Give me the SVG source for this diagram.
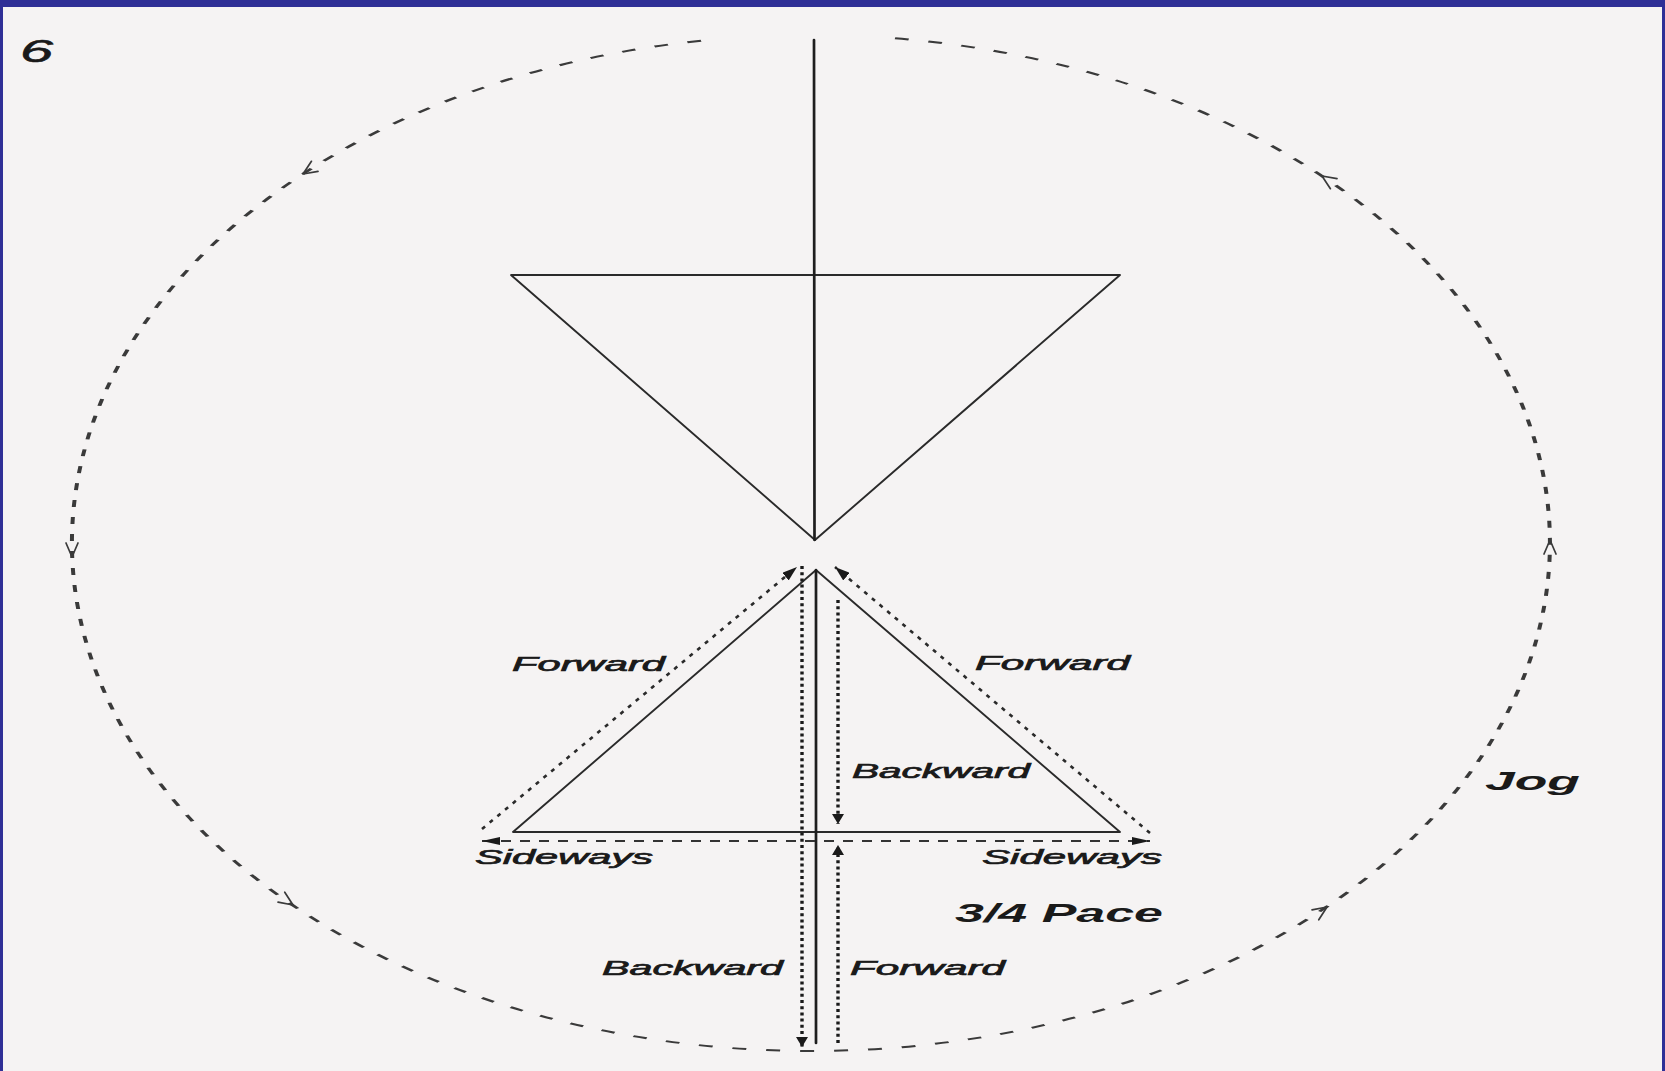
<svg xmlns="http://www.w3.org/2000/svg" width="1665" height="1071" viewBox="0 0 1665 1071">
<style>
.solid{fill:none;stroke:#1e1e1e;stroke-width:2.7;stroke-linecap:round;stroke-linejoin:round}
.thin{fill:none;stroke:#2a2a2a;stroke-width:1.9;stroke-linejoin:round}
.dotv{fill:none;stroke:#1a1a1a;stroke-width:3.4;stroke-dasharray:3 3.2}
.dotd{fill:none;stroke:#2a2a2a;stroke-width:2.6;stroke-dasharray:4 6}
.dash{fill:none;stroke:#333;stroke-width:2.2;stroke-dasharray:10 9}
.ell{fill:none;stroke:#3a3a3a;stroke-width:2;stroke-dasharray:7 10}
.chev{fill:none;stroke:#3a3a3a;stroke-width:1.7;stroke-linecap:round;stroke-linejoin:round}
.lbl{font-family:"Liberation Sans",Arial,sans-serif;font-style:italic;font-size:21px;fill:#1a1a1a;stroke:#1a1a1a;stroke-width:0.7}
.big{font-family:"Liberation Sans",Arial,sans-serif;font-style:italic;font-weight:bold;font-size:25px;fill:#1a1a1a}
</style>
<defs>
<marker id="ahv" viewBox="0 0 10 12" refX="10" refY="6" markerWidth="10" markerHeight="12" markerUnits="userSpaceOnUse" orient="auto"><path d="M0,0 L10,6 L0,12 z" fill="#1a1a1a"/></marker>
<marker id="ahh" viewBox="0 0 18 8" refX="18" refY="4" markerWidth="18" markerHeight="8" markerUnits="userSpaceOnUse" orient="auto-start-reverse"><path d="M0,0 L18,4 L0,8 z" fill="#1a1a1a"/></marker>
<marker id="ahd" viewBox="0 0 15 10" refX="15" refY="5" markerWidth="15" markerHeight="10" markerUnits="userSpaceOnUse" orient="auto"><path d="M0,0 L15,5 L0,10 z" fill="#1a1a1a"/></marker>
<path id="chevron" d="M-14,-6 L0,0 L-14,6"/>
</defs>
<rect x="0" y="0" width="1665" height="1071" fill="#2f2f96"/>
<rect x="3" y="7" width="1659" height="1064" fill="#f5f3f3"/>

<g id="number-label"><text x="20" y="62" font-family="Liberation Sans, Arial, sans-serif" font-style="italic" font-size="32" fill="#1a1a1a" stroke="#1a1a1a" stroke-width="0.6" textLength="33" lengthAdjust="spacingAndGlyphs">6</text></g>

<g id="jog-circle">
<path class="ell" transform="translate(811,543) scale(2,1)" d="M42,-504.7 A369.5 508 0 1 1 -48,-503.7"/>
<use href="#chevron" class="chev" transform="translate(303,174) rotate(146.9)"/>
<use href="#chevron" class="chev" transform="translate(72,557) rotate(90)"/>
<use href="#chevron" class="chev" transform="translate(293,905) rotate(34)"/>
<use href="#chevron" class="chev" transform="translate(1327,907) rotate(-34.1)"/>
<use href="#chevron" class="chev" transform="translate(1550,540) rotate(-90)"/>
<use href="#chevron" class="chev" transform="translate(1322,176) rotate(-146.7)"/>
</g>

<g id="top-triangle">
<path class="thin" d="M815,540 L511,275 L1120,275 Z"/>
<line class="solid" x1="814" y1="40" x2="814.5" y2="540"/>
</g>

<g id="bottom-triangle">
<path class="thin" d="M816,570 L513,832 L1120,832 Z"/>
<line class="solid" x1="816" y1="570" x2="816" y2="1043"/>
</g>

<g id="connectors">
<line class="dotv" x1="802" y1="566" x2="802" y2="1047" marker-end="url(#ahv)"/>
<line class="dotv" x1="838" y1="600" x2="838" y2="824" marker-end="url(#ahv)"/>
<line class="dotv" x1="838" y1="1043" x2="838" y2="845" marker-end="url(#ahv)"/>
<line class="dotd" x1="482" y1="829" x2="797" y2="567" marker-end="url(#ahd)"/>
<line class="dotd" x1="1150" y1="833" x2="835" y2="567" marker-end="url(#ahd)"/>
<line class="dash" x1="482" y1="841" x2="1150" y2="841" marker-start="url(#ahh)" marker-end="url(#ahh)"/>
</g>

<g id="labels">
<text class="lbl" x="512" y="671" textLength="153" lengthAdjust="spacingAndGlyphs">Forward</text>
<text class="lbl" x="975" y="670" textLength="155" lengthAdjust="spacingAndGlyphs">Forward</text>
<text class="lbl" x="852" y="778" textLength="178" lengthAdjust="spacingAndGlyphs">Backward</text>
<text class="lbl" x="475" y="864" textLength="178" lengthAdjust="spacingAndGlyphs">Sideways</text>
<text class="lbl" x="982" y="864" textLength="180" lengthAdjust="spacingAndGlyphs">Sideways</text>
<text class="lbl" x="602" y="975" textLength="181" lengthAdjust="spacingAndGlyphs">Backward</text>
<text class="lbl" x="850" y="975" textLength="155" lengthAdjust="spacingAndGlyphs">Forward</text>
<text class="big" x="955" y="922" textLength="208" lengthAdjust="spacingAndGlyphs">3/4 Pace</text>
<text class="big" x="1485" y="790" textLength="95" lengthAdjust="spacingAndGlyphs">Jog</text>
</g>
</svg>
